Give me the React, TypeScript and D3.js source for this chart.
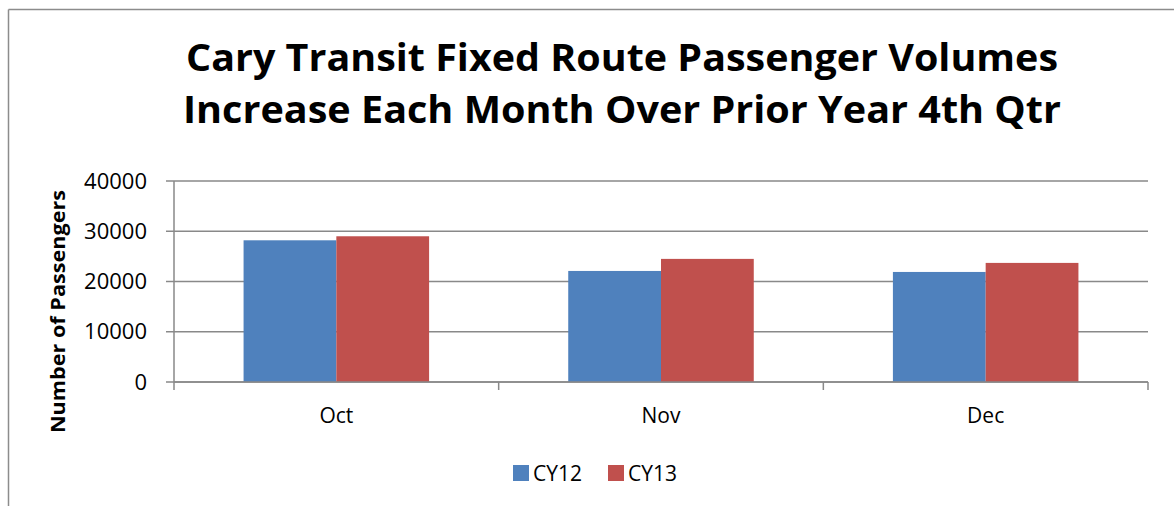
import React from 'react'
import * as d3 from 'd3'

// data
const months = ['Oct', 'Nov', 'Dec']
const series = ['CY12', 'CY13']
const cy12 = [28200, 22100, 21900]
const cy13 = [29000, 24500, 23700]
const yTicks = [0, 10000, 20000, 30000, 40000]
const titleLines = [
  'Cary Transit Fixed Route Passenger Volumes',
  'Increase Each Month Over Prior Year 4th Qtr'
]

const width = 1174,
      height = 506,
      left = 174,
      right = 1148,
      top = 181,
      bottom = 382

const colors = ['#4F81BD', '#C0504D']
const gridColor = '#898989'
const font = '"Open Sans", "Liberation Sans", sans-serif'

const App = () => {
  const values = [cy12, cy13]

  const x0 = d3.scaleBand<string>()
    .domain(months)
    .range([left, right])
    .padding(0)

  // Excel-like gap width 150%
  const x1 = d3.scaleBand<string>()
    .domain(series)
    .range([0, x0.bandwidth()])
    .paddingInner(0)
    .paddingOuter(0.75)

  const y = d3.scaleLinear()
    .domain([0, 40000])
    .range([bottom, top])

  return (
    <svg width={width} height={height} style={{ position: 'absolute', left: 0, top: 0, background: '#fff' }}>
      {/* chart frame (only top and left edges visible) */}
      <line x1={8.5} x2={width} y1={9.5} y2={9.5} stroke='#8c8c8c' strokeWidth={1.5} />
      <line x1={8.5} x2={8.5} y1={9.5} y2={height} stroke='#8c8c8c' strokeWidth={1.5} />

      {/* title */}
      {titleLines.map((t, i) => (
        <text key={i} x={622} y={71 + i * 52} textAnchor='middle'
              fontFamily={font} fontWeight='bold' fontSize={38} fill='#000'
              textLength={i === 0 ? 872 : 878} lengthAdjust='spacingAndGlyphs'>
          {t}
        </text>
      ))}

      {/* gridlines */}
      <g id='grid'>
        {yTicks.map(d => (
          <line key={d} x1={left} x2={right} y1={y(d)} y2={y(d)} stroke={gridColor} strokeWidth={1.5} />
        ))}
      </g>

      {/* bars */}
      <g id='bars'>
        {months.map((m, i) => (
          <g key={m} transform={`translate(${x0(m)}, 0)`}>
            {series.map((s, j) => (
              <rect key={s}
                    x={x1(s)}
                    y={y(values[j][i])}
                    width={x1.bandwidth()}
                    height={bottom - y(values[j][i])}
                    fill={colors[j]} />
            ))}
          </g>
        ))}
      </g>

      {/* y axis */}
      <g id='yAxis'>
        <line x1={left} x2={left} y1={top} y2={bottom} stroke={gridColor} strokeWidth={1.5} />
        {yTicks.map(d => (
          <g key={d} transform={`translate(${left}, ${y(d)})`}>
            <line x1={-8} x2={0} y1={0} y2={0} stroke={gridColor} strokeWidth={1.5} />
            <text x={-27} y={0} dy='0.35em' textAnchor='end' fontFamily={font} fontSize={22} fill='#000'>{d}</text>
          </g>
        ))}
      </g>

      {/* x axis */}
      <g id='xAxis'>
        <line x1={left} x2={right} y1={bottom} y2={bottom} stroke={gridColor} strokeWidth={1.5} />
        {[...months.map(m => x0(m) as number), right].map((px, i) => (
          <line key={i} x1={px} x2={px} y1={bottom} y2={bottom + 8} stroke={gridColor} strokeWidth={1.5} />
        ))}
        {months.map(m => (
          <text key={m} x={(x0(m) as number) + x0.bandwidth() / 2} y={423} textAnchor='middle'
                fontFamily={font} fontSize={21} fill='#000'>{m}</text>
        ))}
      </g>

      {/* y axis title */}
      <text transform='translate(65, 311.5) rotate(-90)' textAnchor='middle'
            fontFamily={font} fontWeight='bold' fontSize={20} fill='#000'
            textLength={243} lengthAdjust='spacingAndGlyphs'>
        Number of Passengers
      </text>

      {/* legend */}
      <g id='legend'>
        {series.map((s, j) => (
          <g key={s} transform={`translate(${513 + j * 95}, 465)`}>
            <rect x={0} y={0} width={16} height={16} fill={colors[j]} />
            <text x={20} y={8} dy='0.36em' fontFamily={font} fontSize={21} fill='#000'>{s}</text>
          </g>
        ))}
      </g>
    </svg>
  )
}

export default App
